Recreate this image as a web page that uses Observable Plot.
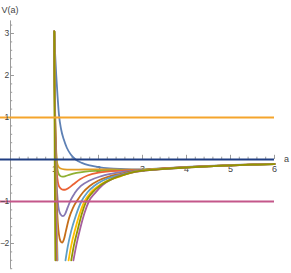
<!DOCTYPE html>
<html><head><meta charset="utf-8">
<script src="https://cdn.jsdelivr.net/npm/d3@7"></script>
<script src="https://cdn.jsdelivr.net/npm/@observablehq/plot@0.6"></script>
<style>
html,body{margin:0;padding:0;background:#fff}
#chart svg{display:block;overflow:visible}
</style>
</head><body><div id="chart"></div>
<script>
// ---- data ----
const seriesNames = ["c1","c2","c3","c4","c5","c6","c7","c8","c9","c10"];
const seriesColors = ["#5E81B5","#E19C24","#8FB032","#EB6235","#8778B3","#C56E1A","#5D9EC7","#FFBF00","#A5609D","#929600"];

const curve1 = [[0.99,3.05],[1.01,2.6],[1.04,2.0],[1.07,1.5],[1.1,1.08],[1.15,0.72],[1.21,0.48],[1.28,0.28],[1.37,0.12],[1.48,0.0],[1.62,-0.08],[1.8,-0.14],[2.0,-0.18],[2.25,-0.21],[2.5,-0.225],[2.75,-0.234],
  [3,-0.238],[3.5,-0.207],[4,-0.178],[4.5,-0.154],[5,-0.134],[5.5,-0.117],[6,-0.103]];
const curve2 = [[0.995,3.05],[1.005,2.0],[1.015,1.1],[1.03,0.45],[1.045,0.08],[1.06,-0.08],[1.09,-0.17],[1.14,-0.215],[1.22,-0.235],[1.35,-0.24],[1.55,-0.24],[1.8,-0.237],[2.0,-0.237],[2.5,-0.24],[2.75,-0.243],
  [3,-0.243],[3.5,-0.21],[4,-0.18],[4.5,-0.156],[5,-0.136],[5.5,-0.119],[6,-0.105]];
const curve3 = [[0.995,3.05],[1.005,2.0],[1.015,1.0],[1.03,0.35],[1.045,-0.02],[1.065,-0.22],[1.09,-0.33],[1.13,-0.39],[1.18,-0.41],[1.25,-0.395],[1.35,-0.36],[1.5,-0.32],[1.7,-0.29],[2.0,-0.27],[2.5,-0.255],[2.75,-0.25],
  [3,-0.247],[3.5,-0.212],[4,-0.182],[4.5,-0.157],[5,-0.137],[5.5,-0.12],[6,-0.106]];
const curve4 = [[0.995,3.05],[1.005,1.9],[1.015,0.9],[1.03,0.2],[1.045,-0.2],[1.065,-0.45],[1.09,-0.6],[1.13,-0.68],[1.18,-0.715],[1.24,-0.72],[1.32,-0.68],[1.43,-0.59],[1.58,-0.47],[1.75,-0.38],[2.0,-0.31],[2.5,-0.265],[2.75,-0.255],
  [3,-0.25],[3.5,-0.214],[4,-0.183],[4.5,-0.158],[5,-0.138],[5.5,-0.121],[6,-0.106]];
const curve5 = [[0.995,3.05],[1.005,1.8],[1.015,0.8],[1.03,0.0],[1.05,-0.6],[1.075,-1.0],[1.1,-1.2],[1.14,-1.31],[1.19,-1.35],[1.24,-1.3],[1.3,-1.14],[1.37,-0.96],[1.46,-0.8],[1.6,-0.63],[1.8,-0.5],[2.05,-0.4],[2.5,-0.3],[2.75,-0.27],
  [3,-0.255],[3.5,-0.217],[4,-0.185],[4.5,-0.16],[5,-0.139],[5.5,-0.122],[6,-0.107]];
const curve6 = [[0.995,3.05],[1.005,1.7],[1.015,0.6],[1.03,-0.3],[1.05,-1.0],[1.075,-1.5],[1.1,-1.78],[1.135,-1.94],[1.175,-1.98],[1.215,-1.9],[1.26,-1.7],[1.33,-1.4],[1.42,-1.15],[1.52,-0.97],[1.65,-0.78],[1.8,-0.63],[2.0,-0.5],[2.25,-0.4],[2.5,-0.34],[2.75,-0.285],
  [3,-0.258],[3.5,-0.219],[4,-0.186],[4.5,-0.161],[5,-0.14],[5.5,-0.122],[6,-0.107]];
const curve7 = [[0.995,3.05],[1.005,1.6],[1.015,0.4],[1.03,-0.6],[1.045,-1.4],[1.06,-2.0],[1.07,-2.4],[1.15,null],[1.25,-2.4],[1.3,-2.08],[1.38,-1.7],[1.48,-1.35],[1.61,-1.0],[1.75,-0.78],[1.9,-0.63],[2.1,-0.5],[2.4,-0.39],[2.75,-0.3],
  [3,-0.262],[3.5,-0.221],[4,-0.188],[4.5,-0.162],[5,-0.141],[5.5,-0.123],[6,-0.108]];
const curve8 = [[0.995,3.05],[1.005,1.5],[1.015,0.3],[1.03,-0.8],[1.045,-1.6],[1.055,-2.1],[1.06,-2.4],[1.2,null],[1.32,-2.4],[1.38,-2.05],[1.47,-1.66],[1.57,-1.3],[1.68,-1.0],[1.82,-0.79],[2.0,-0.63],[2.2,-0.51],[2.5,-0.4],[2.75,-0.31],
  [3,-0.265],[3.5,-0.222],[4,-0.189],[4.5,-0.162],[5,-0.141],[5.5,-0.123],[6,-0.108]];
const curve9 = [[0.995,3.05],[1.005,1.4],[1.015,0.2],[1.025,-0.9],[1.04,-1.8],[1.05,-2.4],[1.25,null],[1.43,-2.4],[1.5,-2.02],[1.59,-1.62],[1.68,-1.28],[1.78,-1.0],[1.92,-0.8],[2.1,-0.6],[2.3,-0.47],[2.5,-0.38],[2.75,-0.31],
  [3,-0.27],[3.5,-0.225],[4,-0.19],[4.5,-0.163],[5,-0.142],[5.5,-0.124],[6,-0.109]];
const curve10 = [[0.995,3.05],[0.998,2.0],[1.001,1.0],[1.005,0.0],[1.01,-1.0],[1.015,-1.8],[1.02,-2.4],[1.2,null],[1.38,-2.4],[1.44,-2.05],[1.53,-1.66],[1.62,-1.3],[1.72,-1.0],[1.86,-0.79],[2.05,-0.61],[2.25,-0.49],[2.5,-0.39],[2.75,-0.31],
  [3,-0.267],[3.5,-0.224],[4,-0.19],[4.5,-0.163],[5,-0.142],[5.5,-0.124],[6,-0.108]];

const levels = [1, 0, -1];
const levelColors = ["#F5A52C", "#203E82", "#C4578A"];
const levelSpan = [-0.23, 6];

const xTicks = [1, 2, 3, 4, 5, 6];
const xTickLabels = ["1", "2", "3", "4", "5", "6"];
const yTicks = [-2, -1, 1, 2, 3];
const yTickLabels = ["\u22122", "\u22121", "1", "2", "3"];
const xDomain = [0, 6];
const yDomain = [-2.6, 3.3];
const xLabel = "a";
const yLabel = "V(a)";

// ---- build ----
const curves = [curve1,curve2,curve3,curve4,curve5,curve6,curve7,curve8,curve9,curve10];
const rows = curves.flatMap((c, i) => c.map(([a, v]) => ({a, v, series: seriesNames[i], color: seriesColors[i]})));
const levelRows = levels.map((y, i) => ({y, color: levelColors[i]}));
const xMinor = d3.range(1, 31).map(k => k / 5).filter(v => Math.abs(v - Math.round(v)) > 1e-6);
const yMinor = d3.range(-13, 17).map(k => k / 5).filter(v => Math.abs(v - Math.round(v)) > 1e-6);

const W = 291, H = 273;
const font = "Liberation Sans, Arial, sans-serif";
const axisColor = "#9a9a9a";
const labelColor = "#444";

const chart = Plot.plot({
  width: W, height: H,
  margin: 0,
  style: {background: "#fff", fontFamily: font},
  x: {domain: xDomain, range: [10, 274], axis: null},
  y: {domain: yDomain, range: [268.2, 20.4], axis: null},
  color: {type: "identity"},
  marks: [
    // y axis
    Plot.ruleX([0], {y1: yDomain[0], y2: yDomain[1], stroke: axisColor, strokeWidth: 1}),
    Plot.ruleY(yTicks, {x1: 0, x2: 0.09, stroke: axisColor}),
    Plot.ruleY(yMinor, {x1: 0, x2: 0.05, stroke: axisColor}),
    // x axis
    Plot.ruleY([0], {x1: xDomain[0], x2: xDomain[1], stroke: axisColor}),
    Plot.ruleX(xTicks, {y1: 0, y2: 0.1, stroke: axisColor}),
    Plot.ruleX(xMinor, {y1: 0, y2: 0.055, stroke: axisColor}),
    // x tick labels (under the curves)
    Plot.text(xTicks, {x: d => d, y: 0, dy: 10, text: (d, i) => xTickLabels[i], fontSize: 9, fill: labelColor}),
    // axis labels
    Plot.text([yLabel], {frameAnchor: "top-left", dx: 1, dy: 6, textAnchor: "start", text: d => d, fontSize: 9, fill: labelColor}),
    Plot.text([xLabel], {x: xDomain[1], y: 0, dx: 12, text: d => d, fontSize: 9, fill: labelColor}),
    // curves
    Plot.line(rows, {x: "a", y: "v", z: "series", stroke: "color", strokeWidth: 1.8, curve: "monotone-x"}),
    // horizontal levels
    Plot.ruleY(levelRows, {y: "y", x1: levelSpan[0], x2: levelSpan[1], stroke: "color", strokeWidth: 2}),
    // y tick labels on top of the level lines
    Plot.text(yTicks, {x: 0, y: d => d, dx: -2, textAnchor: "end", text: (d, i) => yTickLabels[i], fontSize: 8.5, fill: labelColor})
  ]
});
// tighten the y tick labels so the minus sign fits left of the axis
const textGroups = chart.querySelectorAll('g[aria-label="text"]');
textGroups[textGroups.length - 1].setAttribute("letter-spacing", "-0.8");
document.getElementById("chart").appendChild(chart);
</script>
</body></html>
